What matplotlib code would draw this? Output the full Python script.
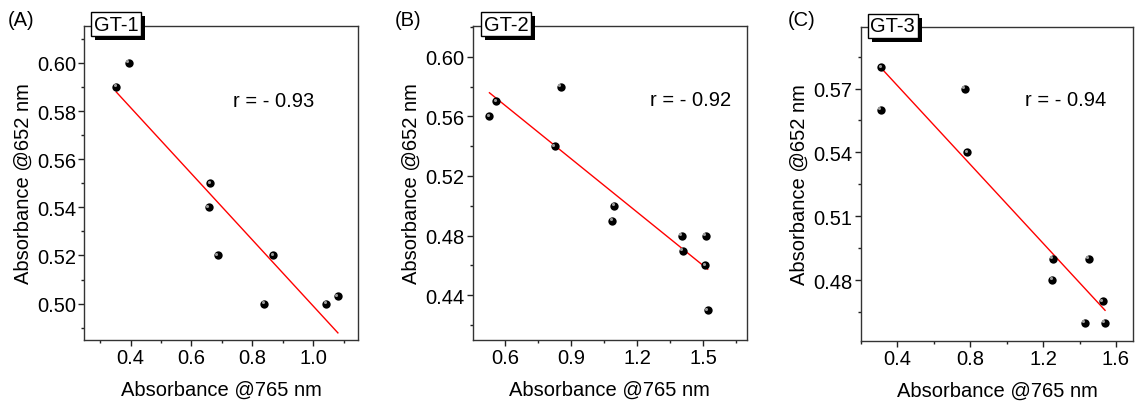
import numpy as np
import matplotlib
matplotlib.use("Agg")
import matplotlib.pyplot as plt
from matplotlib.ticker import MultipleLocator, FormatStrFormatter
from matplotlib.transforms import offset_copy, IdentityTransform
from matplotlib.patches import Rectangle

plt.rcParams['font.family'] = ['Liberation Sans', 'DejaVu Sans']

# Absorbance at 765 nm (x) vs 652 nm (y) for three groups
gt1_x = [0.353, 0.395, 0.662, 0.656, 0.686, 0.869, 0.839, 1.043, 1.081]
gt1_y = [0.590, 0.600, 0.550, 0.540, 0.520, 0.520, 0.500, 0.500, 0.503]

gt2_x = [0.529, 0.561, 0.853, 0.825, 1.096, 1.087, 1.403, 1.406, 1.512, 1.509, 1.520]
gt2_y = [0.560, 0.570, 0.580, 0.540, 0.500, 0.490, 0.480, 0.470, 0.480, 0.460, 0.430]

gt3_x = [0.312, 0.310, 0.769, 0.784, 1.254, 1.251, 1.450, 1.529, 1.430, 1.540]
gt3_y = [0.580, 0.560, 0.570, 0.540, 0.490, 0.480, 0.490, 0.470, 0.460, 0.460]

panel_letters = ["(A)", "(B)", "(C)"]
group_names = ["GT-1", "GT-2", "GT-3"]
r_labels = ["r = - 0.93", "r = - 0.92", "r = - 0.94"]
x_label = "Absorbance @765 nm"
y_label = "Absorbance @652 nm"

W, H = 1138, 406
fig = plt.figure(figsize=(W / 100, H / 100), dpi=100)


def px_axes(l, r, t, b):
    return fig.add_axes([l / W, 1 - b / H, (r - l) / W, (b - t) / H])


specs = [
    dict(data=(gt1_x, gt1_y), box=(84.3, 358.3, 26.7, 340.7),
         xlim=(0.248, 1.148), ylim=(0.485, 0.6155),
         xmaj=0.2, xmin=0.1, ymaj=0.02, ymin=0.01, xfmt="%.1f", yfmt="%.2f",
         letter_x=8, tag_x=0.116, r_pos=(0.543, 0.763)),
    dict(data=(gt2_x, gt2_y), box=(472.7, 746.7, 26.7, 340.7),
         xlim=(0.453, 1.697), ylim=(0.4102, 0.6208),
         xmaj=0.3, xmin=0.15, ymaj=0.04, ymin=0.02, xfmt="%.1f", yfmt="%.2f",
         letter_x=395, tag_x=0.1215, r_pos=(0.647, 0.766)),
    dict(data=(gt3_x, gt3_y), box=(860.7, 1133.3, 28.3, 341.7),
         xlim=(0.199, 1.695), ylim=(0.4515, 0.5988),
         xmaj=0.4, xmin=0.2, ymaj=0.03, ymin=0.015, xfmt="%.1f", yfmt="%.2f",
         letter_x=788, tag_x=0.118, r_pos=(0.603, 0.771)),
]

fs = 14.5
tags = []
for i, s in enumerate(specs):
    ax = px_axes(*s["box"])
    x, y = np.array(s["data"][0]), np.array(s["data"][1])

    # least-squares line across the sampled range
    k, c = np.polyfit(x, y, 1)
    xs = np.array([x.min(), x.max()])
    ax.plot(xs, k * xs + c, color="red", lw=1.0, zorder=2)

    # sphere-like markers: dark disc with a small highlight
    ax.scatter(x, y, s=36, color="black", zorder=3, linewidths=0)
    hl = offset_copy(ax.transData, fig=fig, x=-1.2, y=1.2, units="points")
    ax.scatter(x, y, s=5, color="#9a9a9a", zorder=4, linewidths=0, transform=hl)

    ax.set_xlim(*s["xlim"])
    ax.set_ylim(*s["ylim"])
    ax.xaxis.set_major_locator(MultipleLocator(s["xmaj"]))
    ax.xaxis.set_minor_locator(MultipleLocator(s["xmin"]))
    ax.yaxis.set_major_locator(MultipleLocator(s["ymaj"]))
    ax.yaxis.set_minor_locator(MultipleLocator(s["ymin"]))
    ax.xaxis.set_major_formatter(FormatStrFormatter(s["xfmt"]))
    ax.yaxis.set_major_formatter(FormatStrFormatter(s["yfmt"]))
    ax.tick_params(which="both", direction="out", top=False, right=False,
                   labelsize=fs, color="#222222", width=1.0)
    ax.tick_params(which="major", length=4, pad=2)
    ax.tick_params(which="minor", length=2.5)
    for sp in ax.spines.values():
        sp.set_linewidth(1.0)
        sp.set_color("#333333")

    ax.set_xlabel(x_label, fontsize=fs, labelpad=9)
    ax.set_ylabel(y_label, fontsize=fs, labelpad=3)

    ax.text(*s["r_pos"], r_labels[i], transform=ax.transAxes, fontsize=fs,
            ha="left", va="center")

    # group tag straddling the top frame
    t = ax.text(s["tag_x"], 1.005, group_names[i], transform=ax.transAxes,
                fontsize=14.5, ha="center", va="center", color="black",
                zorder=10, clip_on=False,
                bbox=dict(boxstyle="square,pad=0.12", fc="white", ec="black", lw=1))
    tags.append((ax, t))

    fig.text(s["letter_x"] / W, 1 - 20 / H, panel_letters[i], fontsize=14.5,
             ha="left", va="center")

# drop shadows behind the group tags
fig.canvas.draw()
renderer = fig.canvas.get_renderer()
for ax, t in tags:
    bb = t.get_bbox_patch().get_window_extent(renderer)
    ax.add_artist(Rectangle((bb.x0 + 4, bb.y0 - 4), bb.width, bb.height,
                            transform=IdentityTransform(), facecolor="black",
                            edgecolor="none", zorder=9, clip_on=False))

fig.savefig("out.png", dpi=100)
